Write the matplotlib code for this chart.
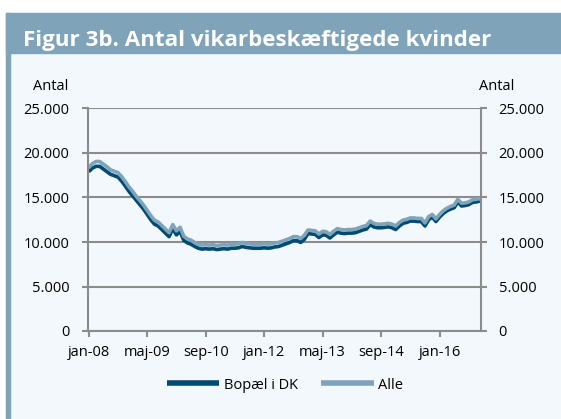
import numpy as np
import matplotlib
matplotlib.use("Agg")
import matplotlib.pyplot as plt
from matplotlib.ticker import FuncFormatter

plt.rcParams['font.family'] = ['Open Sans', 'DejaVu Sans']

# data, monthly from jan-08 (values in thousands)
bopael = [17.9, 18.3, 18.5, 18.5, 18.2, 17.9, 17.6, 17.45, 17.3, 16.85,
          16.3, 15.7, 15.2, 14.7, 14.2, 13.7, 13.1, 12.5, 12.0, 11.8,
          11.4, 11.0, 10.6, 11.5, 10.8, 11.2, 10.2, 9.9, 9.75, 9.5,
          9.3, 9.2, 9.25, 9.2, 9.25, 9.15, 9.2, 9.25, 9.2, 9.3,
          9.3, 9.35, 9.5, 9.4, 9.35, 9.3, 9.3, 9.3, 9.35, 9.3,
          9.35, 9.45, 9.5, 9.65, 9.8, 9.95, 10.15, 10.15, 9.95, 10.3,
          10.95, 10.9, 10.85, 10.5, 10.8, 10.75, 10.45, 10.8, 11.1, 11.0,
          10.95, 11.0, 11.0, 11.05, 11.2, 11.35, 11.45, 11.95, 11.7, 11.6,
          11.6, 11.65, 11.7, 11.6, 11.4, 11.8, 12.1, 12.2, 12.35, 12.35,
          12.3, 12.3, 11.8, 12.5, 12.8, 12.3, 12.8, 13.2, 13.5, 13.7,
          13.85, 14.5, 14.05, 14.1, 14.2, 14.45, 14.5, 14.6]
alle = [18.35, 18.8, 19.05, 19.05, 18.75, 18.45, 18.1, 17.95, 17.8, 17.35,
        16.8, 16.2, 15.7, 15.15, 14.65, 14.15, 13.55, 12.95, 12.45, 12.25,
        11.85, 11.45, 11.05, 11.95, 11.25, 11.65, 10.65, 10.35, 10.2, 9.95,
        9.75, 9.65, 9.7, 9.65, 9.7, 9.6, 9.65, 9.7, 9.65, 9.75,
        9.75, 9.8, 9.95, 9.85, 9.8, 9.75, 9.75, 9.75, 9.8, 9.75,
        9.8, 9.9, 9.95, 10.1, 10.25, 10.4, 10.6, 10.6, 10.4, 10.75,
        11.35, 11.3, 11.25, 10.9, 11.2, 11.15, 10.85, 11.2, 11.5, 11.4,
        11.35, 11.4, 11.4, 11.45, 11.6, 11.75, 11.85, 12.35, 12.1, 12.0,
        12.0, 12.05, 12.1, 12.0, 11.8, 12.2, 12.45, 12.55, 12.7, 12.7,
        12.65, 12.65, 12.15, 12.85, 13.1, 12.6, 13.1, 13.5, 13.8, 14.0,
        14.15, 14.8, 14.35, 14.4, 14.5, 14.75, 14.8, 14.9]
tick_months = [0, 16, 32, 48, 64, 80, 96]
tick_labels = ['jan-08', 'maj-09', 'sep-10', 'jan-12', 'maj-13', 'sep-14', 'jan-16']
yticks = [0, 5000, 10000, 15000, 20000, 25000]

months = np.arange(len(bopael))
bopael = np.array(bopael) * 1000
alle = np.array(alle) * 1000

W, H = 561, 419
header = '#7fa3b8'
panel = '#f3f8fc'
dark = '#004b74'
grey = '#8c8c8c'

fig = plt.figure(figsize=(W / 100, H / 100), dpi=100)
fig.patch.set_facecolor('white')

# panel background, header band and left strip
fig.patches.append(plt.Rectangle((6 / W, 0), 1, 1 - 13.5 / H, transform=fig.transFigure,
                                 color=panel, zorder=-3))
fig.patches.append(plt.Rectangle((6 / W, 1 - 53 / H), 1, 39.5 / H, transform=fig.transFigure,
                                 color=header, zorder=-2))
fig.patches.append(plt.Rectangle((6 / W, 0), 4 / W, 1 - 13.5 / H, transform=fig.transFigure,
                                 color=header, zorder=-2))
fig.text(23 / W, 1 - 46 / H, 'Figur 3b. Antal vikarbeskæftigede kvinder', color='white',
         fontsize=16.1, fontweight='bold', va='baseline', ha='left')

ax = fig.add_axes([87.6 / W, 1 - 331 / H, (480.5 - 87.6) / W, (331 - 108.5) / H])
ax.set_facecolor(panel)

ax.plot(months, bopael, color=dark, lw=2.6, label='Bopæl i DK', solid_capstyle='butt')
ax.plot(months, alle, color=header, lw=2.6, label='Alle', solid_capstyle='butt')

ax.set_xlim(-0.3, 107.2)
ax.set_ylim(0, 25000)
ax.set_xticks(tick_months)
ax.set_xticklabels(tick_labels)
ax.set_yticks(yticks)
ax.yaxis.set_major_formatter(FuncFormatter(lambda v, p: f"{int(v):,}".replace(',', '.')))
ax.yaxis.set_ticks_position('both')
ax.tick_params(axis='y', labelright=True, length=4, width=1.5, color=grey, pad=9,
               labelsize=10.5)
ax.tick_params(axis='x', length=4, width=1.5, color=grey, pad=6, labelsize=10.5)
ax.grid(axis='y', color=grey, lw=1.5, zorder=0)
ax.set_axisbelow(True)
for s in ['left', 'right', 'bottom']:
    ax.spines[s].set_color(grey)
    ax.spines[s].set_linewidth(1.5)
ax.spines['top'].set_visible(False)

fig.text(68 / W, 1 - 86 / H, 'Antal', ha='right', va='center', fontsize=10.5)
fig.text(479 / W, 1 - 86 / H, 'Antal', ha='left', va='center', fontsize=10.5)

leg = fig.legend(loc='center', bbox_to_anchor=(285 / W, 1 - 385 / H), ncol=2, frameon=False,
                 fontsize=10.5, handlelength=3.6, handletextpad=0.3, columnspacing=1.6)
for l in leg.get_lines():
    l.set_linewidth(4)

fig.savefig('out.png', dpi=100, facecolor=fig.get_facecolor())
